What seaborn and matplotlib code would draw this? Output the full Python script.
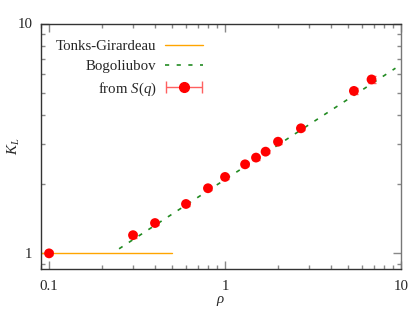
import numpy as np
import matplotlib
matplotlib.use("Agg")
import matplotlib.pyplot as plt
import seaborn as sns
from matplotlib.ticker import LogLocator, NullFormatter, FixedLocator, FixedFormatter
from matplotlib.legend_handler import HandlerErrorbar

# data
rho = [0.1, 0.3, 0.4, 0.6, 0.8, 1.0, 1.3, 1.5, 1.7, 2.0, 2.7, 5.4, 6.8]
K_L = [1.0, 1.20, 1.355, 1.64, 1.92, 2.15, 2.44, 2.61, 2.77, 3.06, 3.50, 5.09, 5.71]
K_err = [0.02, 0.03, 0.03, 0.03, 0.04, 0.04, 0.05, 0.05, 0.05, 0.06, 0.06, 0.15, 0.2]

tg_rho = [0.09, 0.5]
tg_K = [1.0, 1.0]

bog_rho = [0.25, 9.3]
bog_K = [1.047, 6.39]

sns.set_style("ticks")
plt.rcParams["font.family"] = ["Liberation Serif", "DejaVu Serif"]
plt.rcParams["mathtext.fontset"] = "custom"
plt.rcParams["mathtext.it"] = "Liberation Serif:italic"
plt.rcParams["mathtext.rm"] = "Liberation Serif"

FS = 10.7

fig = plt.figure(figsize=(4.15, 3.13), dpi=100)
ax = fig.add_axes([41 / 415, 44 / 313, 360 / 415, 245.5 / 313])

sns.lineplot(x=tg_rho, y=tg_K, ax=ax, color="#FFA500", linewidth=1.0,
             label="Tonks-Girardeau")
sns.lineplot(x=bog_rho, y=bog_K, ax=ax, color="#228B22", linewidth=1.2,
             linestyle=(0, (2.5, 4.5)), label="Bogoliubov")

ax.errorbar(rho, K_L, yerr=K_err, fmt="none", ecolor="#FF6060",
            elinewidth=1.0, capsize=3)
sns.scatterplot(x=rho, y=K_L, ax=ax, color="#FF0000", s=50,
                edgecolor="none", zorder=3)

# legend proxy with horizontal error bar like the reference key
proxy = ax.errorbar([np.nan], [np.nan], xerr=[np.nan], fmt="o",
                    color="#FF0000", ecolor="#FF6060", markersize=7,
                    elinewidth=1.0, capsize=4)

ax.set_xscale("log")
ax.set_yscale("log")
ax.set_xlim(0.09, 10)
ax.set_ylim(0.855, 10)

ax.xaxis.set_major_locator(FixedLocator([0.1, 1, 10]))
ax.xaxis.set_major_formatter(FixedFormatter(["0.1", "1", "10"]))
ax.xaxis.set_minor_locator(LogLocator(base=10, subs=np.arange(2, 10)))
ax.xaxis.set_minor_formatter(NullFormatter())
ax.yaxis.set_major_locator(FixedLocator([1, 10]))
ax.yaxis.set_major_formatter(FixedFormatter(["1", "10"]))
ax.yaxis.set_minor_locator(LogLocator(base=10, subs=np.arange(2, 10)))
ax.yaxis.set_minor_formatter(NullFormatter())

ax.tick_params(which="both", direction="in", top=True, right=True,
               color="#888888", labelsize=FS)
ax.tick_params(axis="x", pad=8)
ax.tick_params(axis="y", pad=6)
ax.tick_params(which="major", length=6, width=1)
ax.tick_params(which="minor", length=3, width=1)
for s in ax.spines.values():
    s.set_linewidth(1.0)
    s.set_color("#333333")
ax.spines["right"].set_color("#777777")

ax.set_xlabel(r"$\rho$", fontsize=FS, labelpad=1)
ax.set_ylabel(r"$K_L$", fontsize=FS, labelpad=-3)

handles, labels = ax.get_legend_handles_labels()
h = [handles[0], handles[1], proxy]
lab = ["Tonks-Girardeau", "Bogoliubov", "from $S(q)$"]
ax.legend(h, lab, loc="upper left", bbox_to_anchor=(0.005, 0.99),
          frameon=False, markerfirst=False, fontsize=FS,
          handlelength=2.55, handletextpad=0.55, labelspacing=0.48,
          handler_map={type(proxy): HandlerErrorbar(xerr_size=1.2)})

fig.savefig("out.png", dpi=100)
